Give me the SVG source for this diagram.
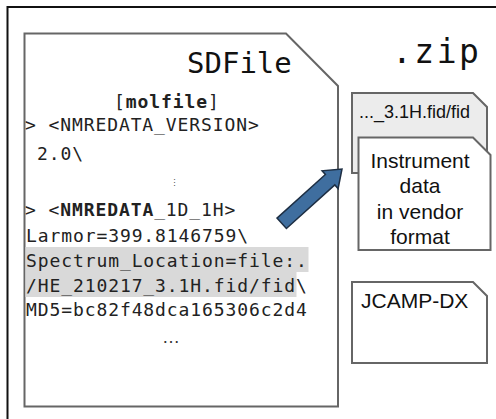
<svg xmlns="http://www.w3.org/2000/svg" width="496" height="419" viewBox="0 0 496 419">
<style>
.mono{font-family:"DejaVu Sans Mono","Liberation Mono",monospace;fill:#222;font-size:18px;letter-spacing:0.9px}
.b{font-weight:bold}
.sans{font-family:"Liberation Sans",Arial,sans-serif;fill:#111;font-size:21px}
.card{stroke:#666;stroke-width:2;fill:#fff}
</style>
<rect x="7.5" y="7" width="500" height="430" fill="#fff" stroke="#111" stroke-width="2"/>
<text x="392" y="63" font-family="DejaVu Sans Mono, monospace" font-size="33" letter-spacing="2.5" fill="#111">.zip</text>
<g id="sdfile">
<path class="card" d="M24.5,33.5 H286 L338,86 V406.5 H24.5 Z"/>
<rect x="25.5" y="247" width="283" height="25" fill="#d9d9d9"/>
<rect x="25.5" y="272" width="271" height="25" fill="#d9d9d9"/>
<text x="187" y="73" font-family="DejaVu Sans Mono, monospace" font-size="29" fill="#111">SDFile</text>
<text class="mono" x="114" y="108">[<tspan class="b">molfile</tspan>]</text>
<text class="mono" x="25" y="131">&gt; &lt;NMREDATA_VERSION&gt;</text>
<text class="mono" x="37" y="160">2.0\</text>
<text class="mono" x="174" y="186" text-anchor="middle" style="font-size:9px;fill:#555;letter-spacing:0">⋮</text>
<text class="mono" x="25" y="216">&gt; &lt;<tspan class="b">NMREDATA</tspan>_1D_1H&gt;</text>
<text class="mono" x="26" y="242">Larmor=399.8146759\</text>
<text class="mono" x="26" y="267">Spectrum_Location=file:.</text>
<text class="mono" x="26" y="292">/HE_210217_3.1H.fid/fid\</text>
<text class="mono" x="26" y="316">MD5=bc82f48dca165306c2d4</text>
<text x="171" y="343" text-anchor="middle" font-family="Liberation Sans, Arial, sans-serif" font-size="18" fill="#333">…</text>
</g>
<g id="fid">
<path class="card" d="M352,93 H473 L487,107 V173 H352 Z" style="fill:#ececec"/>
<text class="sans" x="359" y="118" style="font-size:18px">..._3.1H.fid/fid</text>
</g>
<g id="instrument">
<path class="card" d="M358.5,137.5 H473 L490.5,155 V250 H358.5 Z"/>
<text class="sans" x="420" y="168" text-anchor="middle">Instrument</text>
<text class="sans" x="420" y="193" text-anchor="middle">data</text>
<text class="sans" x="420" y="219" text-anchor="middle">in vendor</text>
<text class="sans" x="420" y="244" text-anchor="middle">format</text>
</g>
<g id="jcamp">
<path class="card" d="M352,282 H473 L487,296 V363 H352 Z"/>
<text class="sans" x="361" y="308">JCAMP-DX</text>
</g>
<g id="connectors">
<path d="M277,218.1 L325.4,174.5 L322.1,170.8 L342,169 L338.1,188.6 L334.8,184.9 L286.4,228.5 Z" fill="#3f6e9f" stroke="#1e2f44" stroke-width="1.5" stroke-linejoin="miter"/>
</g>
</svg>
